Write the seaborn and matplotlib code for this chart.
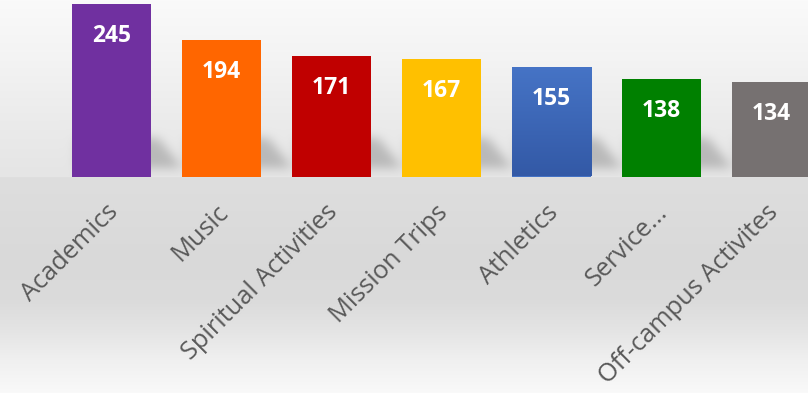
import numpy as np
import pandas as pd
import matplotlib
matplotlib.use("Agg")
import matplotlib.pyplot as plt
import seaborn as sns
from matplotlib.transforms import ScaledTranslation
from matplotlib.colors import LinearSegmentedColormap

# Activity categories and their counts
categories = ["Academics", "Music", "Spiritual Activities", "Mission Trips",
              "Athletics", "Service...", "Off-campus Activites"]
counts = [245, 194, 171, 167, 155, 138, 134]
bar_colors = ["#7030A0", "#FF6600", "#C00000", "#FFC000",
              "#4472C4", "#008000", "#767171"]

plt.rcParams["font.family"] = ["Open Sans", "DejaVu Sans"]

W, H, DPI = 808, 393, 100
fig = plt.figure(figsize=(W / DPI, H / DPI), dpi=DPI)

# Background layer (gradient wall + floor, soft shadows behind the bars)
bg = fig.add_axes([0, 0, 1, 1], zorder=0)
bg.set_axis_off()

# Plot area: baseline at 176.5 px from the top
base_px = 176.5
ax = fig.add_axes([56.5 / W, (H - base_px) / H, 770 / W, 176.25 / H], zorder=1)
ax.patch.set_alpha(0)

df = pd.DataFrame({"category": categories, "count": counts})
sns.barplot(data=df, x="category", y="count", hue="category",
            palette=bar_colors, saturation=1, width=0.72,
            legend=False, ax=ax)
ax.set_ylim(0, 250)
ax.set_xlim(-0.5, 6.5)

# Axis styling
for s in ax.spines.values():
    s.set_visible(False)
ax.set_yticks([])
ax.set_xlabel("")
ax.set_ylabel("")
ax.set_xticks(range(len(categories)))
ax.set_xticklabels(categories, rotation=45, ha="right", va="top",
                   rotation_mode="anchor", fontsize=18.3, color="#595959")
ax.tick_params(axis="x", length=0, pad=16.8)
shift = ScaledTranslation(-0.06, 0, fig.dpi_scale_trans)
for lbl in ax.get_xticklabels():
    lbl.set_transform(lbl.get_transform() + shift)

bars = sorted(ax.patches, key=lambda p: p.get_x())

# Vertical gradient on the Athletics bar
ath = bars[categories.index("Athletics")]
grad = np.linspace(0, 1, 256)[:, None]
blue_cmap = LinearSegmentedColormap.from_list("blue", ["#3359A6", "#4674C6"])
im = ax.imshow(grad, cmap=blue_cmap, aspect="auto", origin="lower",
               extent=[ath.get_x(), ath.get_x() + ath.get_width(), 0, ath.get_height()],
               zorder=ath.get_zorder() + 0.1)
im.set_clip_path(ath)
ax.set_xlim(-0.5, 6.5)
ax.set_ylim(0, 250)

# Value labels inside the top of each bar
for p, v in zip(bars, counts):
    ax.annotate(f"{v}", (p.get_x() + p.get_width() / 2, v),
                xytext=(0, -27.4), textcoords="offset points",
                ha="center", va="baseline", color="white",
                fontsize=16.5, fontweight="bold", zorder=5)

# Build background image
rows = np.arange(H)
stop_y = [0, 60, 120, 176, 177, 260, 300, 330, 360, 392]
stop_v = [250, 243, 235, 229, 222, 217, 219, 228, 240, 249]
col = np.interp(rows, stop_y, stop_v)
img = np.repeat(col[:, None], W, axis=1).astype(float)

# Skewed shadow band cast behind each bar
mask = np.zeros((H, W))
for p in bars:
    ext = p.get_window_extent()
    x0, x1 = ext.x0, ext.x1
    base_row = int(round(H - ext.y0))
    top_r, bot_r = base_row - 38, base_row - 8
    n = bot_r - top_r
    for k, r in enumerate(range(top_r, bot_r)):
        t = k / n
        c0 = int(max(0, x0 + 6))
        c1 = int(min(W, x1 + 8 + 24 * t))
        mask[r, c0:c1] = 1.0

sig = 5.0
kx = np.arange(-18, 19)
kern = np.exp(-kx ** 2 / (2 * sig ** 2))
kern /= kern.sum()
mask = np.apply_along_axis(lambda m: np.convolve(m, kern, mode="same"), 1, mask)
mask = np.apply_along_axis(lambda m: np.convolve(m, kern, mode="same"), 0, mask)
mask[int(round(base_px)):, :] = 0
img = img * (1 - 0.2 * mask)

rgb = np.clip(np.stack([img, img, img], axis=-1) / 255.0, 0, 1)
bg.imshow(rgb, extent=[0, W, H, 0], aspect="auto", interpolation="bilinear")
bg.set_xlim(0, W)
bg.set_ylim(H, 0)

fig.savefig("out.png", dpi=DPI)
